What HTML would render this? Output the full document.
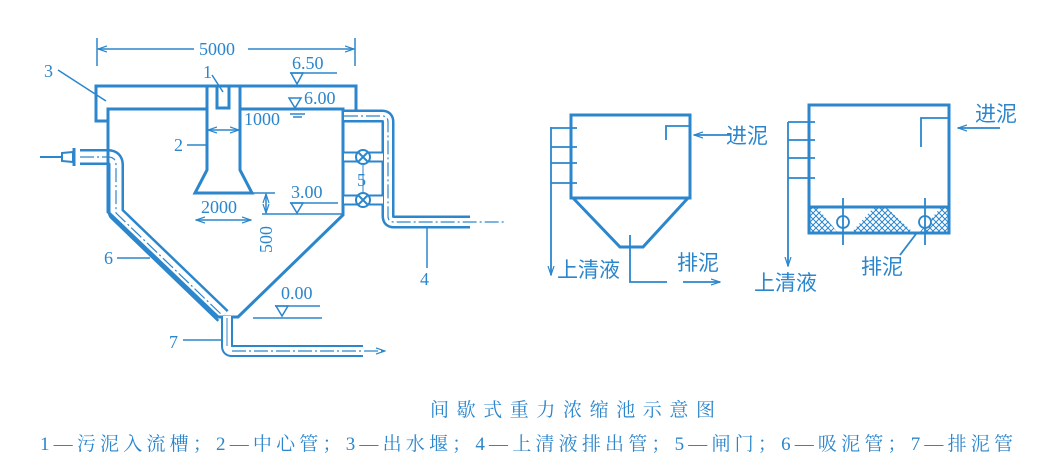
<!DOCTYPE html>
<html><head><meta charset="utf-8"><style>
html,body{margin:0;padding:0;background:#fff;}
svg{display:block}
text{font-family:"Liberation Serif","Noto Serif CJK SC",serif;fill:#2b86cc;}
.cj{font-family:"Liberation Sans","Noto Sans CJK SC",sans-serif;}
</style></head><body>
<svg width="1053" height="475" viewBox="0 0 1053 475" xmlns="http://www.w3.org/2000/svg">
<defs>
<marker id="ar" markerWidth="10" markerHeight="8" refX="9" refY="4" orient="auto" markerUnits="userSpaceOnUse"><path d="M0,1 L9,4 L0,7" fill="none" stroke="#2b86cc" stroke-width="1.2"/></marker>
<marker id="ar2" markerWidth="10" markerHeight="8" refX="9" refY="4" orient="auto-start-reverse" markerUnits="userSpaceOnUse"><path d="M0,1 L9,4 L0,7" fill="none" stroke="#2b86cc" stroke-width="1.2"/></marker>
<pattern id="hat" width="6" height="6" patternUnits="userSpaceOnUse"><path d="M0,0 L6,6 M6,0 L0,6" stroke="#2b86cc" stroke-width="1"/></pattern>
</defs>
<!-- pipe 6 first (under tank wall) -->
<g fill="none" stroke-linejoin="round">
<path d="M80,157 L108,157 Q116,157 116,165 L116,213 L223,316" stroke="#2b86cc" stroke-width="16"/>
<path d="M80,157 L108,157 Q116,157 116,165 L116,213 L223,316" stroke="#fff" stroke-width="11"/>
<path d="M80,157 L108,157 Q116,157 116,165 L116,213 L223,316" stroke="#2b86cc" stroke-width="1.2" stroke-dasharray="14,3,2,3"/>
</g>
<g fill="none" stroke="#2b86cc" stroke-width="3" stroke-linejoin="miter">
<path d="M108,121 L96,121 L96,86 L356,86 L356,112 L343,112"/>
<path d="M207,109 L108,109 L108,212 L218,317 L238,317 L343,215 L343,109 L240,109"/>
<path d="M207,86 L207,170 L195,193 L252,193 L240,170 L240,86"/>
<path d="M217,86 L217,108 L229,108 L229,86"/>
</g>
<g fill="none" stroke="#2b86cc" stroke-width="1.5">
<line x1="97" y1="38" x2="97" y2="66"/><line x1="355" y1="38" x2="355" y2="66"/>
<line x1="98" y1="49" x2="194" y2="49" marker-start="url(#ar2)"/><line x1="248" y1="49" x2="354" y2="49" marker-end="url(#ar)"/>
<line x1="290" y1="73" x2="337" y2="73"/><path d="M291,73 L303,73 L297,84 Z"/>
<path d="M289,98 L301,98 L295,108 Z"/>
<line x1="290" y1="114" x2="305" y2="114"/><line x1="293" y1="117" x2="302" y2="117"/>
<line x1="208" y1="130" x2="239" y2="130" marker-start="url(#ar2)" marker-end="url(#ar)"/>
<line x1="196" y1="220" x2="251" y2="220" marker-start="url(#ar2)" marker-end="url(#ar)"/>
<line x1="253" y1="193" x2="275" y2="193"/><line x1="262" y1="214" x2="343" y2="214"/>
<line x1="266" y1="194" x2="266" y2="213" marker-start="url(#ar2)" marker-end="url(#ar)"/>
<line x1="290" y1="203" x2="338" y2="203"/><path d="M291,203 L303,203 L297,213 Z"/>
<line x1="275" y1="306" x2="320" y2="306"/><path d="M276,306 L288,306 L282,316 Z"/>
<line x1="253" y1="318" x2="322" y2="318"/>
<line x1="58" y1="70" x2="106" y2="101"/>
<line x1="212" y1="75" x2="223" y2="92"/>
<line x1="187" y1="145" x2="207" y2="145"/>
<line x1="117" y1="258" x2="150" y2="258"/>
<line x1="183" y1="340" x2="223" y2="340"/>
<line x1="427" y1="222" x2="427" y2="268"/>
</g>
<g fill="none" stroke-linejoin="round">
<path d="M227,316 L227,346 Q227,351 232,351 L363,351" stroke="#2b86cc" stroke-width="12"/>
<path d="M227,316 L227,346 Q227,351 232,351 L363,351" stroke="#fff" stroke-width="8"/>
<line x1="227" y1="318" x2="227" y2="346" stroke="#2b86cc" stroke-width="1"/>
<line x1="232" y1="351" x2="385" y2="351" stroke="#2b86cc" stroke-width="1.2" stroke-dasharray="14,3,2,3" marker-end="url(#ar)"/>
<path d="M344,116 L382,116 Q388,116 388,122 L388,216 Q388,222 394,222 L470,222" stroke="#2b86cc" stroke-width="13"/>
<path d="M344,116 L382,116 Q388,116 388,122 L388,216 Q388,222 394,222 L470,222" stroke="#fff" stroke-width="8"/>
<path d="M344,116 L382,116 Q388,116 388,122 L388,216 Q388,222 394,222 L505,222" stroke="#2b86cc" stroke-width="1.2" stroke-dasharray="14,3,2,3"/>
<path d="M344,157 L382,157 M344,200 L382,200" stroke="#2b86cc" stroke-width="11"/>
<path d="M344,157 L383,157 M344,200 L383,200" stroke="#fff" stroke-width="7"/>
</g>
<g stroke="#2b86cc" stroke-width="2" fill="#fff">
<line x1="40" y1="157" x2="62" y2="157"/>
<path d="M62,153 L73,152 L73,162 L62,161 Z"/>
<line x1="74" y1="148" x2="74" y2="166" stroke-width="3"/>
<circle cx="363" cy="157" r="7"/><circle cx="363" cy="200" r="7"/>
<path d="M358,152 L368,162 M368,152 L358,162 M358,195 L368,205 M368,195 L358,205" fill="none"/>
<line x1="363" y1="164" x2="363" y2="193" stroke-width="1"/>
</g>
<g font-size="18">
<text x="199" y="55">5000</text>
<text x="292" y="69">6.50</text>
<text x="304" y="104">6.00</text>
<text x="244" y="125">1000</text>
<text x="291" y="198">3.00</text>
<text x="201" y="213">2000</text>
<text x="281" y="299">0.00</text>
<text transform="translate(272,253) rotate(-90)">500</text>
<text x="44" y="77">3</text>
<text x="203" y="78">1</text>
<text x="174" y="151">2</text>
<text x="357" y="186">5</text>
<text x="104" y="264">6</text>
<text x="169" y="348">7</text>
<text x="420" y="285">4</text>
</g>
<g fill="none" stroke="#2b86cc" stroke-width="3">
<path d="M571,115 L690,115 L690,198 L571,198 Z"/>
<path d="M573,198 L620,247 L643,247 L688,198"/>
</g>
<g fill="none" stroke="#2b86cc" stroke-width="1.8">
<path d="M666,140 L666,126 L690,126"/>
<line x1="730" y1="135" x2="694" y2="135" marker-end="url(#ar)"/>
<path d="M630,235 L630,282 L667,282"/>
<line x1="683" y1="282" x2="720" y2="282" marker-end="url(#ar)"/>
<line x1="551" y1="127" x2="551" y2="275" marker-end="url(#ar)"/>
<path d="M551,128 L577,128 M551,147 L577,147 M551,163 L577,163 M551,183 L577,183"/>
</g>
<path d="M809,207 L949,207 L949,233 L809,233 Z" fill="url(#hat)"/>
<path d="M817,207 L838,233 L851,233 L874,207 Z M886,207 L914,233 L919,233 L941,207 Z" fill="#fff"/>
<g fill="none" stroke="#2b86cc" stroke-width="3">
<rect x="809" y="105" width="140" height="128"/>
<line x1="809" y1="207" x2="949" y2="207"/>
</g>
<g fill="none" stroke="#2b86cc" stroke-width="1.8">
<circle cx="843" cy="222" r="6" fill="#fff"/><circle cx="925" cy="222" r="6" fill="#fff"/>
<line x1="843" y1="198" x2="843" y2="245"/><line x1="925" y1="198" x2="925" y2="245"/>
<path d="M921,147 L921,118 L949,118"/>
<line x1="1000" y1="128" x2="958" y2="128" marker-end="url(#ar)"/>
<line x1="788" y1="122" x2="788" y2="266" marker-end="url(#ar)"/>
<path d="M788,122 L815,122 M788,140 L815,140 M788,158 L815,158 M788,178 L815,178"/>
<line x1="900" y1="255" x2="916" y2="234"/>
</g>
<g font-size="21">
<text class="cj" x="726" y="143">进泥</text>
<text class="cj" x="975" y="121">进泥</text>
<text class="cj" x="677" y="270">排泥</text>
<text class="cj" x="861" y="274">排泥</text>
<text class="cj" x="557" y="277">上清液</text>
<text class="cj" x="754" y="290">上清液</text>
</g>
<text x="430" y="416" font-size="19" textLength="285">间歇式重力浓缩池示意图</text>
<text x="40" y="450" font-size="19" textLength="973">1—污泥入流槽；2—中心管；3—出水堰；4—上清液排出管；5—闸门；6—吸泥管；7—排泥管</text>
</svg>
</body></html>
